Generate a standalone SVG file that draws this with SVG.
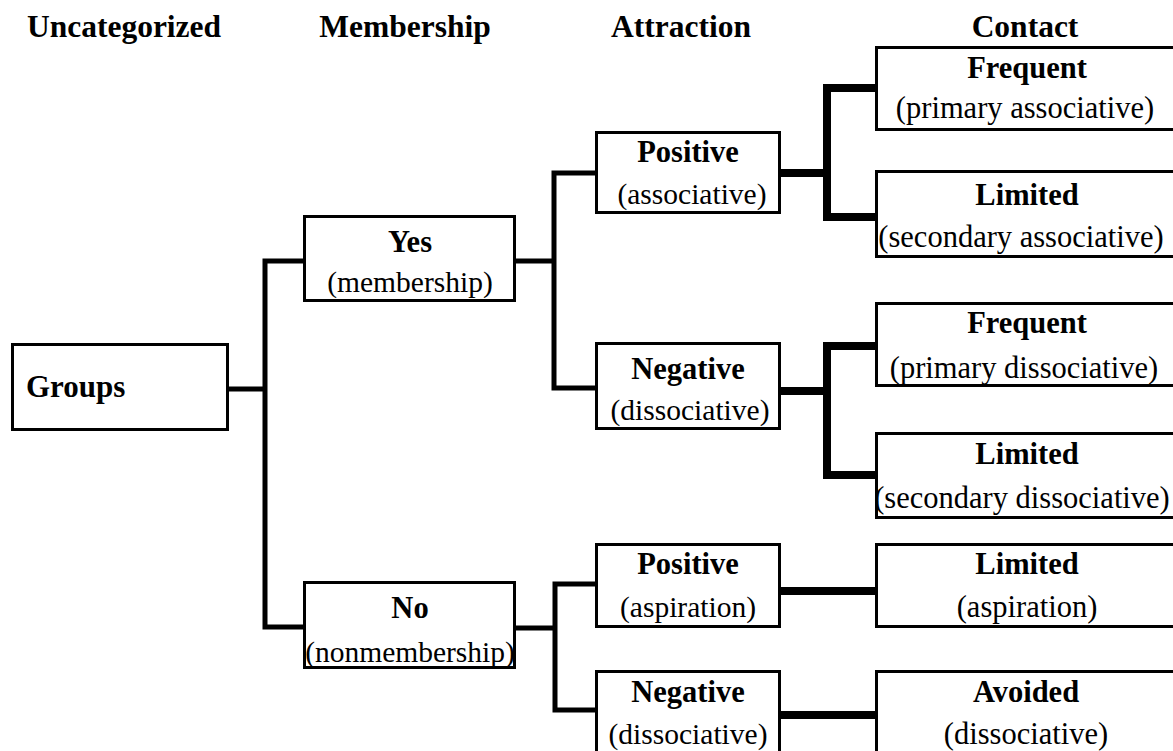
<svg xmlns="http://www.w3.org/2000/svg" width="1173" height="751" viewBox="0 0 1173 751">
  <style>
    .box { fill: #ffffff; stroke: #000000; stroke-width: 3; }
    .link { fill: none; stroke: #000000; stroke-width: 5; stroke-linejoin: miter; stroke-linecap: butt; }
    .heavy { fill: none; stroke: #000000; stroke-width: 8; stroke-linejoin: miter; stroke-linecap: butt; }
    text { font-family: "Liberation Serif", "Times New Roman", serif; fill: #000000; }
    .head { font-size: 31.5px; font-weight: bold; text-anchor: middle; }
    .title { font-size: 30.5px; font-weight: bold; text-anchor: middle; }
    .sub { font-size: 29.5px; text-anchor: middle; }
    .sub-wide { font-size: 30.5px; text-anchor: middle; }
  </style>

  <!-- column headings -->
  <g id="headings">
    <text class="head" x="124" y="37">Uncategorized</text>
    <text class="head" x="405" y="37">Membership</text>
    <text class="head" x="681" y="37">Attraction</text>
    <text class="head" x="1025" y="37">Contact</text>
  </g>

  <!-- tree connectors -->
  <g id="connectors">
    <path class="link" d="M229 389 H265"/>
    <path class="link" d="M303 261 H265 V627 H303"/>
    <path class="link" d="M516 261 H554"/>
    <path class="link" d="M595 173 H554 V388 H595"/>
    <path class="link" d="M516 628 H555"/>
    <path class="link" d="M595 584 H555 V710 H595"/>
    <path class="heavy" d="M781 173 H827"/>
    <path class="heavy" d="M875 88 H827 V217 H875"/>
    <path class="heavy" d="M781 391 H827"/>
    <path class="heavy" d="M875 346 H827 V475 H875"/>
    <path class="heavy" d="M781 591 H875"/>
    <path class="heavy" d="M781 715 H875"/>
  </g>

  <g id="groups">
    <rect class="box" x="12.5" y="344.5" width="215" height="85"/>
    <text x="26" y="397" style="font-size:31px;font-weight:bold">Groups</text>
  </g>

  <g id="yes">
    <rect class="box" x="304.5" y="216.5" width="210" height="84"/>
    <text class="title" x="410" y="252">Yes</text>
    <text class="sub" x="410" y="292">(membership)</text>
  </g>

  <g id="no">
    <rect class="box" x="304.5" y="582.5" width="210" height="85"/>
    <text class="title" x="410" y="618">No</text>
    <text class="sub" x="410" y="662">(nonmembership)</text>
  </g>

  <g id="yes-positive">
    <rect class="box" x="596.5" y="132.5" width="183" height="80"/>
    <text class="title" x="688" y="162">Positive</text>
    <text class="sub" x="692" y="204">(associative)</text>
  </g>

  <g id="yes-negative">
    <rect class="box" x="596.5" y="343.5" width="183" height="85"/>
    <text class="title" x="688" y="379">Negative</text>
    <text class="sub" x="690" y="420">(dissociative)</text>
  </g>

  <g id="no-positive">
    <rect class="box" x="596.5" y="544.5" width="183" height="82"/>
    <text class="title" x="688" y="574">Positive</text>
    <text class="sub" x="688" y="617">(aspiration)</text>
  </g>

  <g id="no-negative">
    <rect class="box" x="596.5" y="671.5" width="183" height="90"/>
    <text class="title" x="688" y="702">Negative</text>
    <text class="sub" x="688" y="744">(dissociative)</text>
  </g>

  <g id="frequent-associative">
    <rect class="box" x="876.5" y="47.5" width="310" height="82"/>
    <text class="title" x="1027" y="78">Frequent</text>
    <text class="sub-wide" x="1025" y="118">(primary associative)</text>
  </g>

  <g id="limited-associative">
    <rect class="box" x="876.5" y="171.5" width="310" height="85"/>
    <text class="title" x="1027" y="205">Limited</text>
    <text class="sub-wide" x="1021" y="247">(secondary associative)</text>
  </g>

  <g id="frequent-dissociative">
    <rect class="box" x="876.5" y="303.5" width="310" height="82"/>
    <text class="title" x="1027" y="333">Frequent</text>
    <text class="sub-wide" x="1024" y="378">(primary dissociative)</text>
  </g>

  <g id="limited-dissociative">
    <rect class="box" x="876.5" y="433.5" width="310" height="84"/>
    <text class="title" x="1027" y="464">Limited</text>
    <text class="sub-wide" x="1022" y="508">(secondary dissociative)</text>
  </g>

  <g id="limited-aspiration">
    <rect class="box" x="876.5" y="544.5" width="310" height="82"/>
    <text class="title" x="1027" y="574">Limited</text>
    <text class="sub-wide" x="1027" y="617">(aspiration)</text>
  </g>

  <g id="avoided">
    <rect class="box" x="876.5" y="671.5" width="310" height="90"/>
    <text class="title" x="1026" y="702">Avoided</text>
    <text class="sub-wide" x="1026" y="744">(dissociative)</text>
  </g>
</svg>
